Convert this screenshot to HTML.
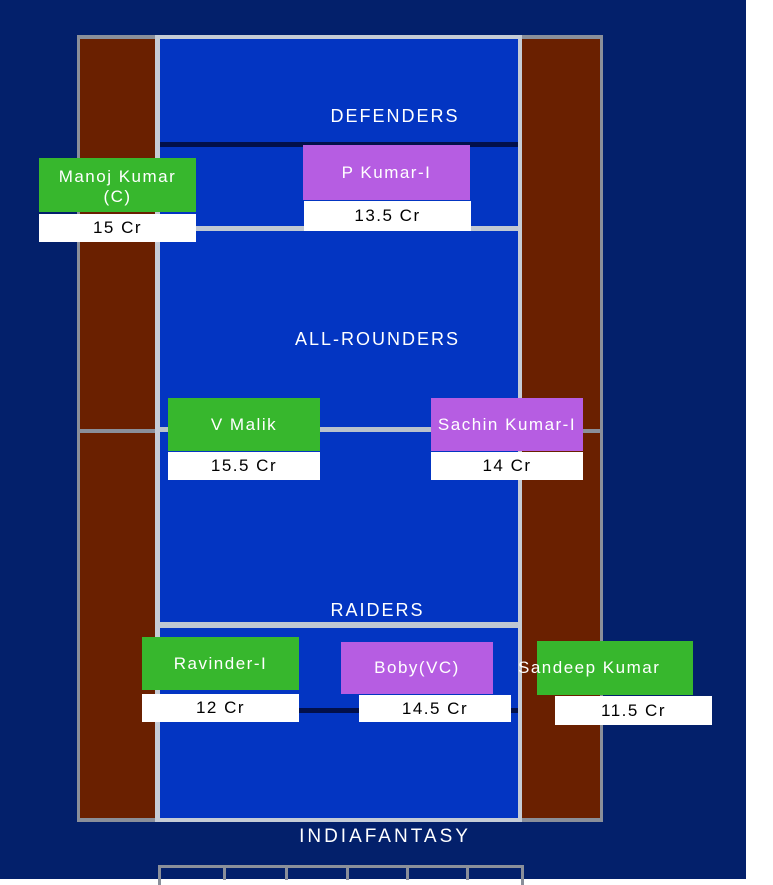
<!DOCTYPE html>
<html><head><meta charset="utf-8"><style>
*{margin:0;padding:0;box-sizing:border-box}
body{width:773px;height:879px;background:#fff;position:relative;overflow:hidden;font-family:"Liberation Sans",sans-serif}
div{position:absolute}
.t{color:#fff;font-size:18px;letter-spacing:2px;text-align:center}
.n{color:#fff;font-size:17px;letter-spacing:1.5px;display:flex;align-items:center;justify-content:center;white-space:nowrap;line-height:20px;text-align:center}
.p{color:#000;background:#fff;font-size:17px;letter-spacing:1.5px;display:flex;align-items:center;justify-content:center}
.g{background:#37b72d}.v{background:#b65de2}
</style></head><body>
<div style="left:0;top:0;width:746px;height:879px;background:#03206b"></div>
<div style="left:77px;top:35px;width:526px;height:787px;background:#8a8f9a"></div>
<div style="left:80px;top:39px;width:520px;height:779px;background:#6a2000"></div>
<div style="left:80px;top:429px;width:78px;height:4px;background:#8a8f9a"></div>
<div style="left:520px;top:429px;width:80px;height:4px;background:#8a8f9a"></div>
<div style="left:155px;top:35px;width:367px;height:787px;background:#c5ccd6"></div>
<div style="left:160px;top:39px;width:358px;height:779px;background:#0335c2"></div>
<div style="left:160px;top:142px;width:358px;height:5px;background:#02104a"></div>
<div style="left:160px;top:226px;width:358px;height:5px;background:#c0c8d2"></div>
<div style="left:160px;top:427px;width:358px;height:5px;background:#b9c2cc"></div>
<div style="left:160px;top:622px;width:358px;height:6px;background:#c0c8d2"></div>
<div style="left:160px;top:708px;width:358px;height:5px;background:#02104a"></div>
<div class="t" style="left:300px;top:106px;width:190px">DEFENDERS</div>
<div class="t" style="left:270px;top:329px;width:215px">ALL-ROUNDERS</div>
<div class="t" style="left:300px;top:600px;width:155px">RAIDERS</div>
<div class="t" style="left:270px;top:826px;width:230px;font-size:19px;letter-spacing:3px">INDIAFANTASY</div>
<div style="left:158px;top:865px;width:366px;height:20px;border:3px solid #8a8f9a;border-bottom:none"></div>
<div style="left:223px;top:866px;width:3px;height:14px;background:#8a8f9a"></div>
<div style="left:285px;top:866px;width:3px;height:14px;background:#8a8f9a"></div>
<div style="left:346px;top:866px;width:3px;height:14px;background:#8a8f9a"></div>
<div style="left:406px;top:866px;width:3px;height:14px;background:#8a8f9a"></div>
<div style="left:466px;top:866px;width:3px;height:14px;background:#8a8f9a"></div>

<div class="n g" style="left:39px;top:158px;width:157px;height:54px;flex-direction:column;padding-top:4px">Manoj Kumar<br>(C)</div>
<div class="p" style="left:39px;top:214px;width:157px;height:28px">15 Cr</div>
<div class="n v" style="left:303px;top:145px;width:167px;height:55px">P Kumar-I</div>
<div class="p" style="left:304px;top:201px;width:167px;height:30px">13.5 Cr</div>
<div class="n g" style="left:168px;top:398px;width:152px;height:53px">V Malik</div>
<div class="p" style="left:168px;top:452px;width:152px;height:28px">15.5 Cr</div>
<div class="n v" style="left:431px;top:398px;width:152px;height:53px">Sachin Kumar-I</div>
<div class="p" style="left:431px;top:452px;width:152px;height:28px">14 Cr</div>
<div class="n g" style="left:142px;top:637px;width:157px;height:53px">Ravinder-I</div>
<div class="p" style="left:142px;top:694px;width:157px;height:28px">12 Cr</div>
<div class="n v" style="left:341px;top:642px;width:152px;height:52px">Boby(VC)</div>
<div class="p" style="left:359px;top:695px;width:152px;height:27px">14.5 Cr</div>
<div class="n g" style="left:537px;top:641px;width:156px;height:54px;justify-content:flex-start;padding-left:0;overflow:visible"><span style="margin-left:-19px">Sandeep Kumar</span></div>
<div class="p" style="left:555px;top:696px;width:157px;height:29px">11.5 Cr</div>
</body></html>
